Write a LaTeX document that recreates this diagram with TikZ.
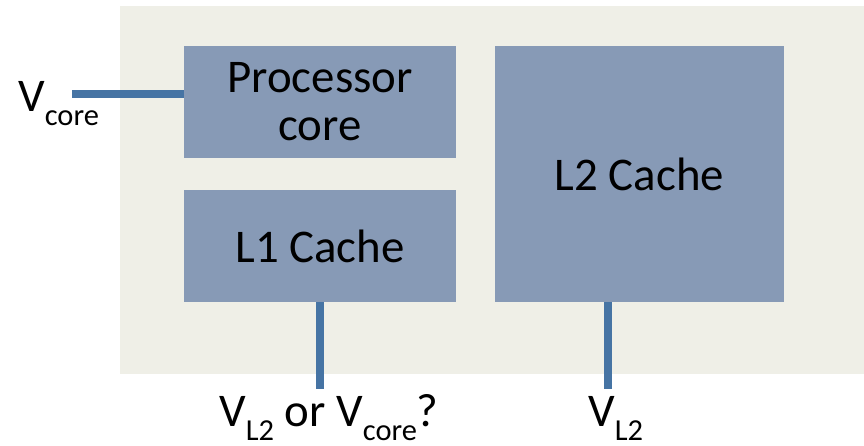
\documentclass[tikz,border=0pt]{standalone}
\usepackage{fontspec}
\setmainfont{Carlito}
\usetikzlibrary{positioning}

\definecolor{chipbg}{HTML}{EFEFE7}
\definecolor{blockfill}{HTML}{879AB6}
\definecolor{wire}{HTML}{4674A4}

\newcommand{\vsub}[1]{\raisebox{-0.3em}{\fontsize{26}{26}\selectfont #1}}

\begin{document}
\begin{tikzpicture}[
  x=0.03cm, y=-0.03cm,
  block/.style={fill=blockfill, inner sep=0pt, align=center,
    font=\fontsize{40}{41}\selectfont},
  rail/.style={wire, line width=0.24cm},
  lbl/.style={inner sep=0pt, anchor=base west,
    font=\fontsize{40}{48}\selectfont}
]
\useasboundingbox (0,0) rectangle (864,446);

% --- chip area ---
\fill[chipbg] (120,6) rectangle (864,374);

% --- blocks ---
\node[block, minimum width=8.16cm, minimum height=3.36cm] (pc) at (320,102) {Processor\\core};
\node[block, minimum width=8.16cm, minimum height=3.36cm] (l1) at (320,246) {L1 Cache};
\node[block, minimum width=8.67cm, minimum height=7.68cm] (l2) at (639.5,174) {L2 Cache};

% --- supply labels ---
\node[lbl] (vcore) at (18,111) {V\vsub{core}};
\node[lbl] (vl1) at (219,426) {V\vsub{L2} or V\vsub{core}?};
\node[lbl] (vl2) at (588,426) {V\vsub{L2}};

\coordinate (vcend) at (72,94);
\coordinate (l1end) at (320,389);
\coordinate (l2end) at (608,389);

% --- supply rails ---
\draw[rail] (vcend) -- (vcend -| pc.west);
\draw[rail] (l1.south) -- (l1end);
\draw[rail] (l2end |- l2.south) -- (l2end);

\end{tikzpicture}
\end{document}
